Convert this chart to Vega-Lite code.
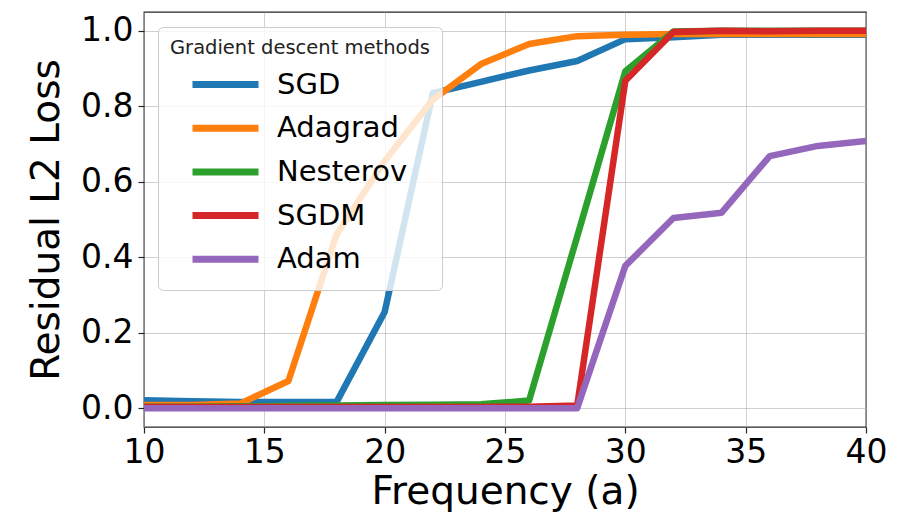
{
  "$schema": "https://vega.github.io/schema/vega-lite/v6.json",
  "width": 722,
  "height": 415,
  "autosize": {"type": "none"},
  "padding": {"left": 144, "top": 12, "right": 38, "bottom": 91},
  "background": "white",
  "config": {
    "font": "DejaVu Sans",
    "view": {"stroke": "#262626", "strokeWidth": 1.3},
    "axis": {
      "domain": false,
      "grid": true,
      "gridColor": "#b0b0b0",
      "gridOpacity": 0.6,
      "gridWidth": 1,
      "tickColor": "#262626",
      "tickSize": 6,
      "tickWidth": 1.2,
      "labelColor": "black",
      "labelFont": "DejaVu Sans",
      "labelFontSize": 33,
      "labelFlush": false,
      "titleColor": "black",
      "titleFont": "DejaVu Sans",
      "titleFontSize": 39,
      "titleFontWeight": "normal"
    }
  },
  "data": {
    "values": [
      {"x": 10, "y": 0.021, "method": "SGD"},
      {"x": 12, "y": 0.018, "method": "SGD"},
      {"x": 14, "y": 0.016, "method": "SGD"},
      {"x": 16, "y": 0.016, "method": "SGD"},
      {"x": 18, "y": 0.016, "method": "SGD"},
      {"x": 20, "y": 0.255, "method": "SGD"},
      {"x": 22, "y": 0.835, "method": "SGD"},
      {"x": 24, "y": 0.865, "method": "SGD"},
      {"x": 26, "y": 0.895, "method": "SGD"},
      {"x": 28, "y": 0.92, "method": "SGD"},
      {"x": 30, "y": 0.978, "method": "SGD"},
      {"x": 32, "y": 0.983, "method": "SGD"},
      {"x": 34, "y": 0.99, "method": "SGD"},
      {"x": 36, "y": 0.99, "method": "SGD"},
      {"x": 38, "y": 0.99, "method": "SGD"},
      {"x": 40, "y": 0.99, "method": "SGD"},
      {"x": 10, "y": 0.008, "method": "Adagrad"},
      {"x": 12, "y": 0.008, "method": "Adagrad"},
      {"x": 14, "y": 0.012, "method": "Adagrad"},
      {"x": 16, "y": 0.072, "method": "Adagrad"},
      {"x": 18, "y": 0.46, "method": "Adagrad"},
      {"x": 20, "y": 0.655, "method": "Adagrad"},
      {"x": 22, "y": 0.818, "method": "Adagrad"},
      {"x": 24, "y": 0.912, "method": "Adagrad"},
      {"x": 26, "y": 0.965, "method": "Adagrad"},
      {"x": 28, "y": 0.986, "method": "Adagrad"},
      {"x": 30, "y": 0.99, "method": "Adagrad"},
      {"x": 32, "y": 0.992, "method": "Adagrad"},
      {"x": 34, "y": 0.992, "method": "Adagrad"},
      {"x": 36, "y": 0.992, "method": "Adagrad"},
      {"x": 38, "y": 0.992, "method": "Adagrad"},
      {"x": 40, "y": 0.992, "method": "Adagrad"},
      {"x": 10, "y": 0.004, "method": "Nesterov"},
      {"x": 12, "y": 0.004, "method": "Nesterov"},
      {"x": 14, "y": 0.005, "method": "Nesterov"},
      {"x": 16, "y": 0.006, "method": "Nesterov"},
      {"x": 18, "y": 0.007, "method": "Nesterov"},
      {"x": 20, "y": 0.008, "method": "Nesterov"},
      {"x": 22, "y": 0.009, "method": "Nesterov"},
      {"x": 24, "y": 0.01, "method": "Nesterov"},
      {"x": 26, "y": 0.02, "method": "Nesterov"},
      {"x": 28, "y": 0.455, "method": "Nesterov"},
      {"x": 30, "y": 0.893, "method": "Nesterov"},
      {"x": 32, "y": 0.998, "method": "Nesterov"},
      {"x": 34, "y": 1.0, "method": "Nesterov"},
      {"x": 36, "y": 1.0, "method": "Nesterov"},
      {"x": 38, "y": 1.0, "method": "Nesterov"},
      {"x": 40, "y": 1.0, "method": "Nesterov"},
      {"x": 10, "y": 0.003, "method": "SGDM"},
      {"x": 12, "y": 0.003, "method": "SGDM"},
      {"x": 14, "y": 0.003, "method": "SGDM"},
      {"x": 16, "y": 0.003, "method": "SGDM"},
      {"x": 18, "y": 0.003, "method": "SGDM"},
      {"x": 20, "y": 0.003, "method": "SGDM"},
      {"x": 22, "y": 0.003, "method": "SGDM"},
      {"x": 24, "y": 0.003, "method": "SGDM"},
      {"x": 26, "y": 0.004, "method": "SGDM"},
      {"x": 28, "y": 0.007, "method": "SGDM"},
      {"x": 30, "y": 0.868, "method": "SGDM"},
      {"x": 32, "y": 0.997, "method": "SGDM"},
      {"x": 34, "y": 1.0, "method": "SGDM"},
      {"x": 36, "y": 0.999, "method": "SGDM"},
      {"x": 38, "y": 1.0, "method": "SGDM"},
      {"x": 40, "y": 1.0, "method": "SGDM"},
      {"x": 10, "y": 0.0, "method": "Adam"},
      {"x": 12, "y": 0.0, "method": "Adam"},
      {"x": 14, "y": 0.0, "method": "Adam"},
      {"x": 16, "y": 0.0, "method": "Adam"},
      {"x": 18, "y": 0.0, "method": "Adam"},
      {"x": 20, "y": 0.0, "method": "Adam"},
      {"x": 22, "y": 0.0, "method": "Adam"},
      {"x": 24, "y": 0.0, "method": "Adam"},
      {"x": 26, "y": 0.0, "method": "Adam"},
      {"x": 28, "y": 0.0, "method": "Adam"},
      {"x": 30, "y": 0.377, "method": "Adam"},
      {"x": 32, "y": 0.504, "method": "Adam"},
      {"x": 34, "y": 0.518, "method": "Adam"},
      {"x": 36, "y": 0.668, "method": "Adam"},
      {"x": 38, "y": 0.695, "method": "Adam"},
      {"x": 40, "y": 0.708, "method": "Adam"}
    ]
  },
  "mark": {"type": "line", "strokeWidth": 6.5, "strokeJoin": "round", "strokeCap": "butt", "clip": true},
  "encoding": {
    "x": {
      "field": "x",
      "type": "quantitative",
      "scale": {"domain": [10, 40], "nice": false, "zero": false},
      "axis": {"values": [10, 15, 20, 25, 30, 35, 40], "title": "Frequency (a)", "labelPadding": 3, "titlePadding": 3}
    },
    "y": {
      "field": "y",
      "type": "quantitative",
      "scale": {"domain": [-0.05, 1.05], "nice": false, "zero": false},
      "axis": {"values": [0, 0.2, 0.4, 0.6, 0.8, 1.0], "format": ".1f", "title": "Residual L2 Loss", "labelPadding": 5, "titlePadding": 14}
    },
    "color": {
      "field": "method",
      "type": "nominal",
      "sort": ["SGD", "Adagrad", "Nesterov", "SGDM", "Adam"],
      "scale": {
        "domain": ["SGD", "Adagrad", "Nesterov", "SGDM", "Adam"],
        "range": ["#1f77b4", "#ff7f0e", "#2ca02c", "#d62728", "#9467bd"]
      },
      "legend": {
        "orient": "none",
        "legendX": 14,
        "legendY": 15,
        "title": "Gradient descent methods",
        "titleFontSize": 19.5,
        "titleFontWeight": "normal",
        "titleColor": "#222222",
        "titleLimit": 600,
        "titlePadding": 8,
        "labelFontSize": 29,
        "labelColor": "black",
        "labelOffset": 15,
        "labelLimit": 400,
        "symbolType": "stroke",
        "symbolSize": 4356,
        "symbolStrokeWidth": 7,
        "symbolOffset": 19,
        "clipHeight": 36,
        "rowPadding": 7.7,
        "fillColor": "rgba(255,255,255,0.8)",
        "strokeColor": "#cccccc",
        "cornerRadius": 5,
        "padding": 12
      }
    }
  }
}
